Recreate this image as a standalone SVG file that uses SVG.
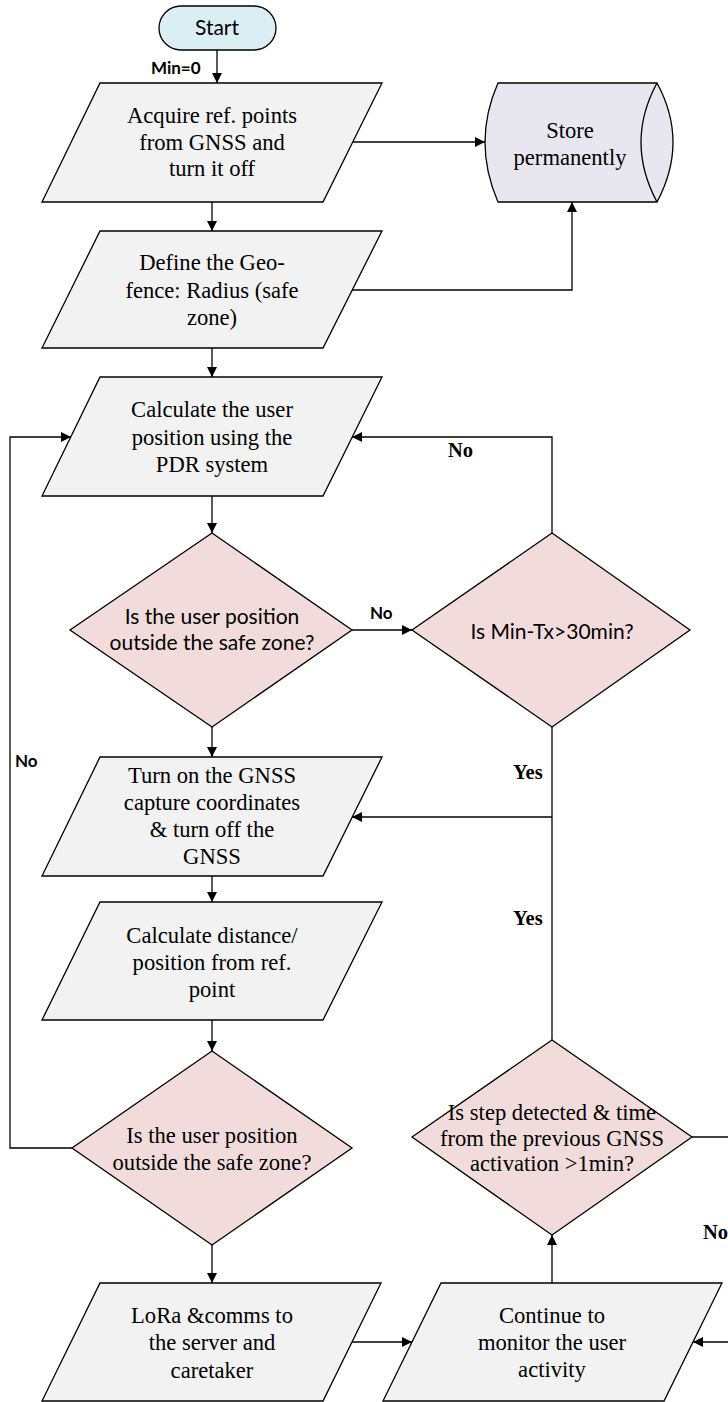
<svg xmlns="http://www.w3.org/2000/svg" width="728" height="1402" viewBox="0 0 728 1402">
  <defs>
    <marker id="arrow" viewBox="0 0 10 10" refX="10" refY="5" markerWidth="10" markerHeight="10" markerUnits="userSpaceOnUse" orient="auto">
      <path d="M0,0 L10,5 L0,10 z" fill="#000"/>
    </marker>
    <style>
      .proc { fill: #F2F2F2; stroke: #000; stroke-width: 1.3; }
      .dec { fill: #F2DCDB; stroke: #000; stroke-width: 1.3; }
      .term { fill: #DAEEF3; stroke: #000; stroke-width: 1.3; }
      .store { fill: #E8E6EF; stroke: #000; stroke-width: 1.3; }
      .edge { fill: none; stroke: #000; stroke-width: 1.3; }
      .tx { font-size: 22.6px; fill: #000; text-anchor: middle; }
      .ts { font-size: 21px; fill: #000; text-anchor: middle; }
      .lb { font-size: 20.5px; font-weight: bold; fill: #000; }
      .ls { font-size: 17px; font-weight: bold; fill: #000; }
    </style>
  </defs>

  <!-- connectors -->
  <g id="connectors">
    <line class="edge" x1="217" y1="50" x2="217" y2="83" marker-end="url(#arrow)"/>
    <line class="edge" x1="212" y1="202" x2="212" y2="231" marker-end="url(#arrow)"/>
    <line class="edge" x1="212" y1="348" x2="212" y2="377" marker-end="url(#arrow)"/>
    <line class="edge" x1="212" y1="496" x2="212" y2="533" marker-end="url(#arrow)"/>
    <line class="edge" x1="212" y1="727" x2="212" y2="757" marker-end="url(#arrow)"/>
    <line class="edge" x1="212" y1="876" x2="212" y2="902" marker-end="url(#arrow)"/>
    <line class="edge" x1="212" y1="1020" x2="212" y2="1051" marker-end="url(#arrow)"/>
    <line class="edge" x1="212" y1="1245" x2="212" y2="1283" marker-end="url(#arrow)"/>
    <!-- to storage -->
    <line class="edge" x1="352" y1="142" x2="485" y2="142" marker-end="url(#arrow)"/>
    <polyline class="edge" points="352,290 572,290 572,202" marker-end="url(#arrow)"/>
    <!-- decision 1 No -> decision 2 -->
    <line class="edge" x1="352" y1="630" x2="412" y2="630" marker-end="url(#arrow)"/>
    <!-- decision 2 No -> back to PDR -->
    <polyline class="edge" points="552,533 552,437 352,437" marker-end="url(#arrow)"/>
    <!-- decision 2 Yes / decision 4 Yes -> GNSS capture -->
    <line class="edge" x1="552" y1="727" x2="552" y2="1040"/>
    <line class="edge" x1="552" y1="817" x2="352" y2="817" marker-end="url(#arrow)"/>
    <!-- decision 3 No -> back to PDR -->
    <polyline class="edge" points="72,1148 10,1148 10,437 71,437" marker-end="url(#arrow)"/>
    <!-- LoRa -> continue monitoring -->
    <line class="edge" x1="352" y1="1342" x2="412" y2="1342" marker-end="url(#arrow)"/>
    <!-- continue monitoring -> decision 4 -->
    <line class="edge" x1="552" y1="1283" x2="552" y2="1235" marker-end="url(#arrow)"/>
    <!-- decision 4 No -> continue monitoring -->
    <line class="edge" x1="692" y1="1137" x2="740" y2="1137"/>
    <line class="edge" x1="740" y1="1342" x2="693" y2="1342" marker-end="url(#arrow)"/>

    <g font-family="Lato, 'Noto Sans', sans-serif">
      <text class="ls" x="151" y="74">Min=0</text>
      <text class="ls" x="370" y="619">No</text>
      <text class="ls" x="15" y="767">No</text>
    </g>
    <g font-family="'Liberation Serif', 'DejaVu Serif', serif">
      <text class="lb" x="448" y="457">No</text>
      <text class="lb" x="513" y="779">Yes</text>
      <text class="lb" x="513" y="925">Yes</text>
      <text class="lb" x="703" y="1239">No</text>
    </g>
  </g>

  <g id="start">
    <rect class="term" x="159" y="6" width="117" height="44" rx="22" ry="22"/>
    <text class="ts" x="217" y="35" font-family="Lato, 'Noto Sans', sans-serif">Start</text>
  </g>

  <g id="acquire" font-family="'Liberation Serif', 'DejaVu Serif', serif">
    <polygon class="proc" points="100,83 382,83 323,202 42,202"/>
    <text class="tx" x="212" y="123">Acquire ref. points</text>
    <text class="tx" x="212" y="150">from GNSS and</text>
    <text class="tx" x="212" y="176">turn it off</text>
  </g>

  <g id="store" font-family="'Liberation Serif', 'DejaVu Serif', serif">
    <path class="store" d="M498,83 L657,83 Q689,142 657,202 L498,202 Q472,142 498,83 z"/>
    <path class="edge" d="M657,83 Q625,142 657,202"/>
    <text class="tx" x="570" y="138">Store</text>
    <text class="tx" x="570" y="165">permanently</text>
  </g>

  <g id="geofence" font-family="'Liberation Serif', 'DejaVu Serif', serif">
    <polygon class="proc" points="100,231 382,231 323,348 42,348"/>
    <text class="tx" x="212" y="270">Define the Geo-</text>
    <text class="tx" x="212" y="298">fence: Radius (safe</text>
    <text class="tx" x="212" y="325">zone)</text>
  </g>

  <g id="pdr" font-family="'Liberation Serif', 'DejaVu Serif', serif">
    <polygon class="proc" points="100,377 382,377 323,496 42,496"/>
    <text class="tx" x="212" y="417">Calculate the user</text>
    <text class="tx" x="212" y="445">position using the</text>
    <text class="tx" x="212" y="472">PDR system</text>
  </g>

  <g id="outside1" font-family="Lato, 'Noto Sans', sans-serif">
    <polygon class="dec" points="212,533 352,630 212,727 70,630"/>
    <text class="ts" x="212" y="624">Is the user position</text>
    <text class="ts" x="212" y="650">outside the safe zone?</text>
  </g>

  <g id="timeout" font-family="Lato, 'Noto Sans', sans-serif">
    <polygon class="dec" points="552,533 690,630 552,727 412,630"/>
    <text class="ts" x="552" y="639">Is Min-Tx&gt;30min?</text>
  </g>

  <g id="gnss" font-family="'Liberation Serif', 'DejaVu Serif', serif">
    <polygon class="proc" points="100,757 382,757 323,876 42,876"/>
    <text class="tx" x="212" y="783">Turn on the GNSS</text>
    <text class="tx" x="212" y="810">capture coordinates</text>
    <text class="tx" x="212" y="837">&amp; turn off the</text>
    <text class="tx" x="212" y="864">GNSS</text>
  </g>

  <g id="distance" font-family="'Liberation Serif', 'DejaVu Serif', serif">
    <polygon class="proc" points="100,902 382,902 323,1020 42,1020"/>
    <text class="tx" x="212" y="943">Calculate distance/</text>
    <text class="tx" x="212" y="970">position from ref.</text>
    <text class="tx" x="212" y="997">point</text>
  </g>

  <g id="outside2" font-family="'Liberation Serif', 'DejaVu Serif', serif">
    <polygon class="dec" points="212,1051 352,1148 212,1245 72,1148"/>
    <text class="tx" x="212" y="1143">Is the user position</text>
    <text class="tx" x="212" y="1170">outside the safe zone?</text>
  </g>

  <g id="step" font-family="'Liberation Serif', 'DejaVu Serif', serif">
    <polygon class="dec" points="552,1040 692,1137 552,1235 412,1137"/>
    <text class="tx" x="552" y="1120">Is step detected &amp; time</text>
    <text class="tx" x="552" y="1146">from the previous GNSS</text>
    <text class="tx" x="552" y="1171">activation &gt;1min?</text>
  </g>

  <g id="lora" font-family="'Liberation Serif', 'DejaVu Serif', serif">
    <polygon class="proc" points="100,1283 381,1283 323,1401 42,1401"/>
    <text class="tx" x="212" y="1323">LoRa &amp;comms to</text>
    <text class="tx" x="212" y="1350">the server and</text>
    <text class="tx" x="212" y="1378">caretaker</text>
  </g>

  <g id="monitor" font-family="'Liberation Serif', 'DejaVu Serif', serif">
    <polygon class="proc" points="441,1283 722,1283 664,1401 383,1401"/>
    <text class="tx" x="552" y="1323">Continue to</text>
    <text class="tx" x="552" y="1350">monitor the user</text>
    <text class="tx" x="552" y="1377">activity</text>
  </g>
</svg>
